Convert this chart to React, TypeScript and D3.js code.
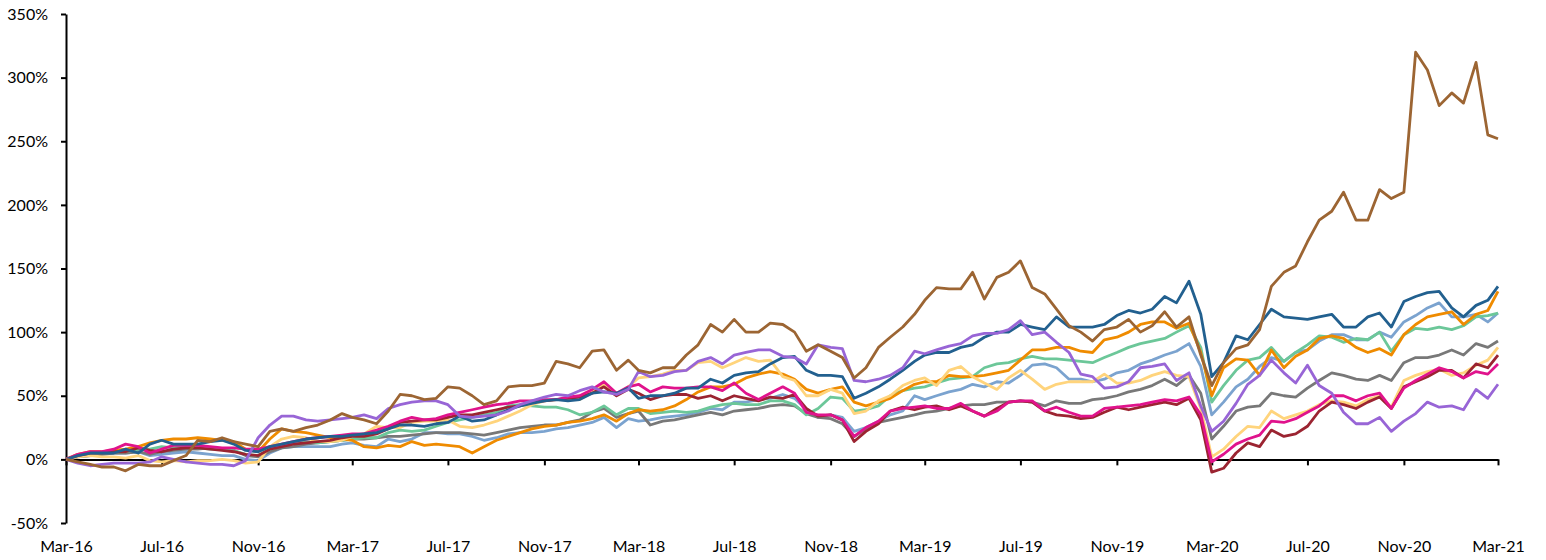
import React, { useRef, useEffect } from 'react';
import * as d3 from 'd3';

const WIDTH = 1546;
const HEIGHT = 560;

// half-month observations, Mar-16 .. Mar-21
const periods = d3.range(121).map(i => new Date(2016, 2 + Math.floor(i / 2), i % 2 ? 16 : 1));

const xTickLabels = ['Mar-16', 'Jul-16', 'Nov-16', 'Mar-17', 'Jul-17', 'Nov-17', 'Mar-18', 'Jul-18',
  'Nov-18', 'Mar-19', 'Jul-19', 'Nov-19', 'Mar-20', 'Jul-20', 'Nov-20', 'Mar-21'];
const xTickDates = xTickLabels.map((_, i) => new Date(2016, 2 + i * 4, 1));
const yTicks = [-50, 0, 50, 100, 150, 200, 250, 300, 350];

// cumulative return, %
const brown = [
  0, -2, -4, -6, -6, -9, -4, -5, -5, -1,
  3, 15, 14, 17, 14, 12, 10, 22, 24, 22,
  25, 27, 31, 36, 33, 31, 28, 38, 51, 50,
  47, 48, 57, 56, 50, 43, 46, 57, 58, 58,
  60, 77, 75, 72, 85, 86, 70, 78, 70, 68,
  72, 72, 82, 90, 106, 100, 110, 100, 100, 107,
  106, 100, 85, 90, 85, 80, 64, 72, 88, 96,
  104, 114, 125, 135, 134, 134, 147, 126, 143, 147,
  156, 135, 130, 118, 105, 100, 93, 102, 104, 110,
  100, 105, 116, 104, 112, 82, 58, 76, 87, 90,
  102, 136, 147, 152, 171, 188, 195, 210, 188, 188,
  212, 205, 210, 320, 306, 278, 288, 280, 312, 255,
  252];
const blue = [
  0, 3, 5, 5, 5, 8, 5, 12, 15, 12,
  12, 12, 14, 15, 12, 7, 6, 10, 12, 14,
  16, 17, 18, 18, 19, 20, 21, 24, 27, 27,
  26, 28, 29, 34, 30, 31, 35, 39, 42, 44,
  46, 47, 46, 47, 52, 53, 52, 56, 48, 50,
  50, 52, 56, 56, 63, 60, 66, 68, 69, 75,
  80, 81, 70, 66, 66, 65, 48, 52, 57, 63,
  70, 77, 82, 84, 84, 88, 90, 96, 100, 100,
  106, 104, 102, 112, 104, 104, 104, 106, 113, 117,
  115, 118, 128, 123, 140, 114, 65, 76, 97, 94,
  106, 118, 112, 111, 110, 112, 114, 104, 104, 112,
  115, 104, 124, 128, 131, 132, 119, 112, 121, 125,
  136];
const purple = [
  0, -3, -5, -4, -3, -3, -3, -2, 2, 0,
  -2, -3, -4, -4, -5, -1, 17, 27, 34, 34,
  31, 30, 31, 32, 33, 35, 32, 40, 43, 45,
  46, 46, 43, 34, 33, 34, 35, 38, 43, 46,
  49, 51, 50, 54, 57, 53, 51, 55, 69, 65,
  66, 69, 70, 77, 80, 75, 82, 84, 86, 86,
  81, 80, 75, 90, 88, 87, 62, 61, 63, 66,
  72, 85, 83, 86, 89, 91, 97, 99, 99, 102,
  109, 98, 100, 92, 84, 67, 65, 56, 57, 61,
  72, 73, 75, 62, 68, 42, 22, 30, 44, 59,
  66, 78, 68, 60, 74, 58, 52, 37, 28, 28,
  33, 22, 30, 36, 45, 41, 42, 39, 55, 48,
  59];
const orange = [
  0, 4, 6, 6, 7, 8, 10, 13, 15, 16,
  16, 17, 16, 15, 14, 8, 6, 16, 24, 22,
  21, 19, 17, 16, 15, 10, 9, 11, 10, 14,
  11, 12, 11, 10, 5, 10, 15, 18, 21, 24,
  26, 27, 29, 30, 32, 35, 30, 36, 39, 38,
  39, 42, 47, 53, 57, 57, 59, 64, 67, 69,
  67, 63, 55, 52, 55, 57, 45, 42, 45, 48,
  54, 59, 61, 61, 66, 65, 65, 66, 68, 70,
  78, 86, 86, 88, 88, 85, 84, 94, 96, 100,
  106, 108, 108, 103, 107, 84, 50, 72, 79, 78,
  66, 86, 72, 81, 86, 95, 97, 95, 88, 84,
  87, 82, 98, 106, 112, 114, 116, 106, 114, 117,
  132];
const steel = [
  0, 2, 3, 4, 5, 5, 6, 3, 4, 5,
  6, 5, 4, 3, 3, 0, -1, 5, 9, 10,
  10, 10, 10, 12, 13, 11, 10, 16, 14, 16,
  21, 21, 20, 20, 18, 15, 17, 20, 21, 21,
  22, 24, 25, 27, 29, 33, 25, 32, 30, 31,
  33, 34, 35, 37, 40, 39, 45, 45, 47, 48,
  51, 48, 39, 33, 35, 33, 22, 25, 30, 35,
  38, 50, 47, 50, 53, 55, 59, 57, 61, 60,
  66, 74, 75, 72, 63, 63, 61, 63, 68, 70,
  75, 78, 82, 85, 91, 73, 35, 45, 57, 63,
  73, 80, 77, 84, 86, 93, 98, 98, 94, 94,
  100, 96, 108, 113, 119, 123, 112, 112, 114, 108,
  115];
const green = [
  0, 3, 4, 5, 6, 6, 8, 8, 10, 9,
  10, 9, 8, 8, 7, 4, 3, 8, 11, 13,
  14, 13, 14, 15, 16, 17, 17, 21, 23, 22,
  23, 26, 29, 31, 33, 35, 37, 42, 43, 42,
  41, 41, 39, 35, 37, 42, 35, 40, 40, 36,
  37, 38, 37, 38, 41, 43, 44, 43, 43, 46,
  46, 43, 35, 40, 49, 48, 38, 39, 42, 50,
  54, 56, 57, 60, 63, 64, 65, 72, 75, 76,
  79, 81, 79, 79, 78, 77, 76, 80, 84, 88,
  91, 93, 95, 100, 105, 88, 45, 58, 70, 78,
  80, 88, 77, 84, 90, 97, 96, 92, 95, 94,
  100, 85, 98, 103, 102, 104, 102, 105, 112, 113,
  115];
const gray = [
  0, 2, 3, 4, 5, 5, 6, 4, 6, 7,
  8, 8, 9, 8, 7, 3, 2, 6, 9, 10,
  12, 13, 14, 15, 16, 16, 17, 18, 18, 19,
  20, 21, 21, 21, 20, 19, 21, 23, 25, 26,
  27, 27, 29, 31, 37, 40, 33, 36, 38, 27,
  30, 31, 33, 35, 37, 35, 38, 39, 40, 42,
  43, 42, 36, 33, 32, 28, 18, 24, 29, 31,
  33, 35, 37, 38, 40, 42, 43, 43, 45, 45,
  46, 45, 42, 46, 44, 44, 47, 48, 50, 53,
  55, 58, 63, 58, 66, 52, 16, 26, 38, 41,
  42, 52, 50, 49, 56, 62, 68, 66, 63, 62,
  66, 62, 76, 80, 80, 82, 86, 82, 91, 88,
  93];
const peach = [
  0, 2, 3, 2, 2, 1, 3, -1, -2, -1,
  -2, -1, -1, 0, -1, -3, -2, 10, 16, 18,
  17, 14, 14, 15, 18, 20, 26, 25, 25, 29,
  30, 30, 31, 26, 25, 27, 30, 34, 38, 43,
  46, 47, 47, 47, 53, 59, 51, 57, 64, 65,
  67, 70, 70, 76, 77, 72, 76, 80, 77, 78,
  65, 62, 50, 50, 55, 52, 36, 38, 46, 50,
  58, 62, 64, 58, 70, 73, 65, 60, 55, 64,
  70, 63, 55, 59, 61, 61, 61, 67, 60, 60,
  62, 66, 69, 66, 65, 40, 2, 8, 18, 26,
  25, 38, 32, 35, 38, 43, 46, 45, 42, 47,
  50, 41, 62, 66, 69, 71, 66, 68, 74, 78,
  88];
const darkRed = [
  0, 3, 5, 5, 6, 6, 9, 7, 6, 8,
  9, 9, 8, 7, 6, 4, 3, 8, 10, 12,
  13, 14, 15, 17, 18, 18, 20, 24, 29, 30,
  31, 31, 33, 35, 35, 37, 39, 41, 42, 45,
  46, 47, 48, 49, 52, 57, 50, 55, 52, 47,
  50, 51, 51, 48, 50, 46, 50, 48, 46, 49,
  48, 51, 40, 34, 35, 31, 14, 22, 28, 38,
  41, 39, 41, 42, 39, 42, 38, 34, 40, 45,
  46, 45, 38, 35, 34, 32, 33, 37, 41, 39,
  41, 43, 45, 43, 48, 31, -10, -7, 5, 13,
  10, 23, 18, 20, 26, 38, 45, 43, 40, 45,
  49, 40, 57, 61, 65, 70, 70, 64, 75, 72,
  82];
const magenta = [
  0, 4, 6, 6, 8, 12, 10, 5, 8, 11,
  11, 11, 10, 9, 9, 8, 8, 10, 12, 14,
  16, 17, 18, 19, 20, 20, 23, 26, 30, 33,
  31, 32, 35, 37, 39, 41, 43, 44, 46, 46,
  47, 47, 49, 50, 55, 61, 52, 57, 59, 53,
  57, 56, 56, 57, 57, 54, 60, 52, 47, 52,
  57, 52, 37, 35, 35, 31, 18, 25, 30, 38,
  40, 41, 42, 40, 40, 44, 38, 34, 38, 45,
  46, 46, 38, 41, 37, 34, 34, 40, 41, 42,
  43, 45, 47, 46, 49, 35, -2, 4, 12, 16,
  19, 30, 29, 32, 37, 42, 50, 50, 46, 50,
  52, 40, 56, 62, 67, 72, 69, 64, 69, 67,
  75];

// drawing order: first one sits at the bottom
const series = [
  { key: 'steel', color: '#7ba3cf', values: steel },
  { key: 'gray', color: '#787878', values: gray },
  { key: 'green', color: '#6cc799', values: green },
  { key: 'orange', color: '#ef8b00', values: orange },
  { key: 'peach', color: '#ffd47c', values: peach },
  { key: 'darkRed', color: '#9b2431', values: darkRed },
  { key: 'magenta', color: '#e0138c', values: magenta },
  { key: 'blue', color: '#22608f', values: blue },
  { key: 'purple', color: '#9865d6', values: purple },
  { key: 'brown', color: '#9c6533', values: brown },
];

const FONT = 'Lato, "Open Sans", sans-serif';

function LineChart() {
  const svgRef = useRef<SVGSVGElement>(null);

  useEffect(() => {
    const svg = d3.select(svgRef.current);

    const x = d3.scaleTime()
      .domain([new Date(2016, 2, 1), new Date(2021, 2, 1)])
      .range([66, 1498]);
    const y = d3.scaleLinear()
      .domain([-50, 350])
      .range([523, 14]);

    // y axis
    svg.select<SVGGElement>('.y-axis')
      .attr('transform', `translate(${x.range()[0]},0)`)
      .call(d3.axisLeft(y).tickValues(yTicks).tickFormat(d => `${d}%`).tickSize(5).tickSizeOuter(0).tickPadding(13))
      .call(g => g.select('.domain').attr('stroke', '#000').attr('stroke-width', 2))
      .call(g => g.selectAll('.tick line').attr('stroke', '#000').attr('stroke-width', 2))
      .call(g => g.selectAll('text').attr('font-family', FONT).attr('font-size', 16).attr('fill', '#000'));

    // x axis sits on the 0% line, labels pushed to the bottom
    svg.select<SVGGElement>('.x-axis')
      .attr('transform', `translate(0,${y(0)})`)
      .call(d3.axisBottom(x).tickValues(xTickDates).tickFormat((_, i) => xTickLabels[i]).tickSize(6).tickSizeOuter(0))
      .call(g => g.select('.domain').attr('stroke', '#000').attr('stroke-width', 2))
      .call(g => g.selectAll('.tick line').attr('stroke', '#000').attr('stroke-width', 2))
      .call(g => g.selectAll('text').attr('y', 81).attr('font-family', FONT).attr('font-size', 16).attr('fill', '#000'));

    const line = d3.line<number>()
      .x((_, i) => x(periods[i]))
      .y(v => y(v));

    svg.select('.lines')
      .selectAll('path')
      .data(series)
      .join('path')
      .attr('fill', 'none')
      .attr('stroke', s => s.color)
      .attr('stroke-width', 2.8)
      .attr('stroke-linejoin', 'round')
      .attr('d', s => line(s.values));
  }, []);

  return (
    <svg ref={svgRef} width={WIDTH} height={HEIGHT}
      style={{ position: 'absolute', left: 0, top: 0, background: '#fff' }}>
      <g className="x-axis" />
      <g className="y-axis" />
      <g className="lines" />
    </svg>
  );
}

export default function App() {
  return <LineChart />;
}
